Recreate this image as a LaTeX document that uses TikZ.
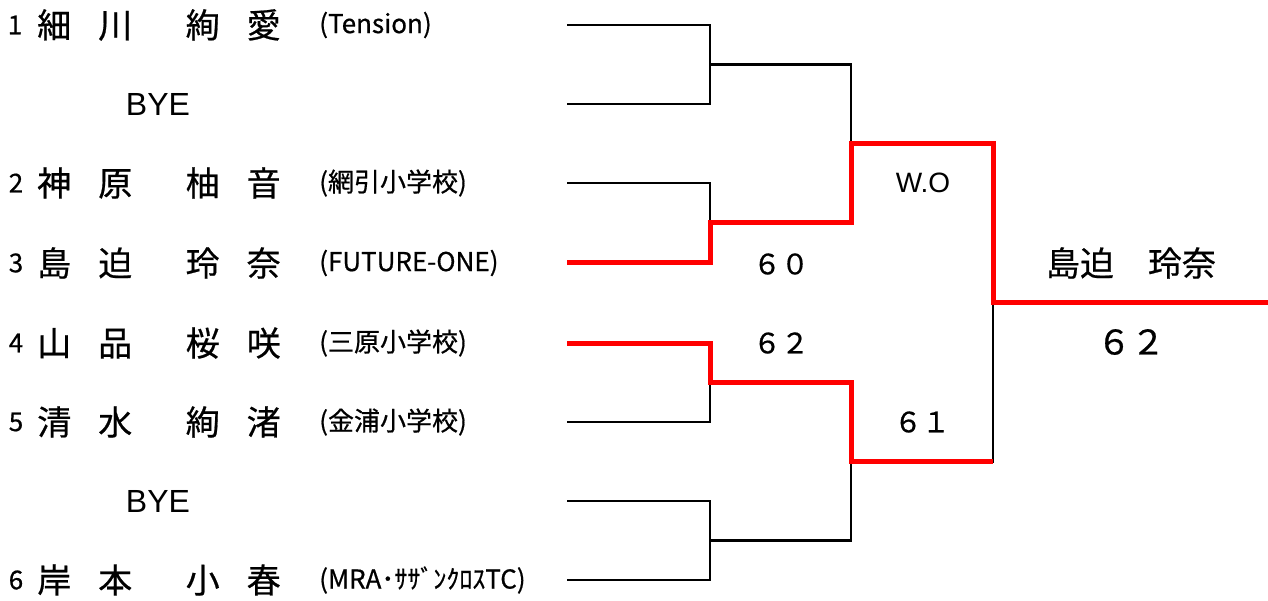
\documentclass[tikz,border=0pt]{standalone}
\usepackage{fontspec}
\setmainfont{Noto Sans CJK JP}[FakeBold=0.6]
\newfontfamily\latinfont{Liberation Sans}
\usetikzlibrary{positioning}

\begin{document}
\begin{tikzpicture}[x=1pt, y=-1pt, line width=2.5pt,
	num/.style = {inner sep=0pt, font=\fontsize{26}{26}\selectfont},
	player/.style = {anchor=west, inner sep=0pt, font=\fontsize{34}{34}\selectfont},
	club/.style = {anchor=west, inner sep=0pt, font=\fontsize{26}{26}\selectfont},
	bye/.style = {inner sep=0pt, font=\fontsize{32}{32}\selectfont\latinfont},
	score/.style = {inner sep=0pt, font=\fontsize{28}{28}\selectfont},
	winner/.style = {inner sep=0pt, font=\fontsize{34}{34}\selectfont},
	win/.style = {line width=5pt, red}]
		\useasboundingbox (0,0) rectangle (1268,601);
		\node[num] (n1) at (15,25) {1};
		\node[player] (p1) at (36,25) {細\hspace{27pt}川\hspace{53.5pt}絢\hspace{27pt}愛};
		\node[club] (c1) at (318,25) {(Tension)};
		\node[bye] (b1) at (158,104) {BYE};
		\node[num] (n2) at (16,183) {2};
		\node[player] (p2) at (36,183) {神\hspace{27pt}原\hspace{53.5pt}柚\hspace{27pt}音};
		\node[club] (c2) at (318,183) {(網引小学校)};
		\node[num] (n3) at (16,263) {3};
		\node[player] (p3) at (36,263) {島\hspace{27pt}迫\hspace{53.5pt}玲\hspace{27pt}奈};
		\node[club] (c3) at (318,263) {(FUTURE-ONE)};
		\node[num] (n4) at (16,343) {4};
		\node[player] (p4) at (36,343) {山\hspace{27pt}品\hspace{53.5pt}桜\hspace{27pt}咲};
		\node[club] (c4) at (318,343) {(三原小学校)};
		\node[num] (n5) at (16,422) {5};
		\node[player] (p5) at (36,422) {清\hspace{27pt}水\hspace{53.5pt}絢\hspace{27pt}渚};
		\node[club] (c5) at (318,422) {(金浦小学校)};
		\node[bye] (b2) at (158,501) {BYE};
		\node[num] (n6) at (16,580) {6};
		\node[player] (p6) at (36,580) {岸\hspace{27pt}本\hspace{53.5pt}小\hspace{27pt}春};
		\node[club] (c6) at (318,580) {(MRA･ｻｻﾞﾝｸﾛｽTC)};
		\coordinate (e1) at (567,25);
		\coordinate (e2) at (567,104);
		\coordinate (e3) at (567,183);
		\coordinate (e4) at (567,263);
		\coordinate (e5) at (567,343);
		\coordinate (e6) at (567,422);
		\coordinate (e7) at (567,501);
		\coordinate (e8) at (567,580);
		\coordinate (j1) at (710,64.5);
		\coordinate (j2) at (710,223);
		\coordinate (j3) at (710,382.5);
		\coordinate (j4) at (710,540.5);
		\coordinate (q1) at (851,143.75);
		\coordinate (q2) at (851,461.5);
		\coordinate (f) at (993,302.5);
		\coordinate (g) at (993,461.5);
		\coordinate (champ) at (1268,302.5);
		\draw (e1) -| (j1) |- (e2);
		\draw (e3) -| (j2) |- (e4);
		\draw (e5) -| (j3) |- (e6);
		\draw (e7) -| (j4) |- (e8);
		\draw (j1) -| (q1) |- (j2);
		\draw (j3) -| (q2) |- (j4);
		\draw (q1) -| (f) |- (q2);
		\draw (f) -- (champ);
		\draw[win] (e4) -| (j2) -| (q1) -| (f) -- (champ);
		\draw[win] (e5) -| (j3) -| (q2) -- (g);
		\node[score] (s1) at (923,183) {\latinfont W.O};
		\node[score] (s2) at (781,264) {６０};
		\node[score] (s3) at (781,343) {６２};
		\node[score] (s4) at (922,422) {６１};
		\node[winner] (w) at (1131,263) {島迫　玲奈};
		\node[winner] (s5) at (1131,342) {６２};
\end{tikzpicture}
\end{document}
